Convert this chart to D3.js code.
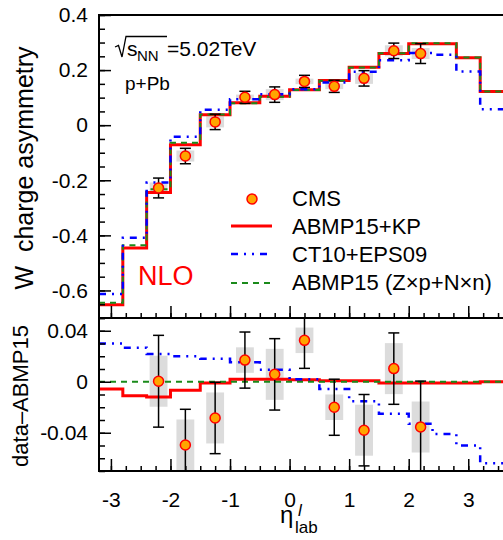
<!DOCTYPE html>
<html>
<head>
<meta charset="utf-8">
<style>
    body {
        margin: 0;
        background: #fff;
    }

    svg {
        display: block;
        font-family: 'Liberation Sans', Arial, sans-serif;
    }

    .axis .domain {
        display: none;
    }

    .axis .tick line {
        stroke: #000;
        stroke-width: 1.5;
    }

    .axis .tick text {
        font-size: 21px;
        fill: #000;
        font-family: 'Liberation Sans', Arial, sans-serif;
    }

    .frame {
        fill: none;
        stroke: #000;
        stroke-width: 2;
    }

    .legend text {
        font-size: 22px;
    }
</style>
</head>
<body>
<svg width="503" height="540"></svg>

<script src="https://d3js.org/d3.v7.min.js"></script>
<script>
    // bin edges (eta_lab) of the NLO histograms
    let binEdges = [-3.2, -2.8, -2.4, -2.0, -1.5, -1.0, -0.5, 0, 0.5, 1.0, 1.5, 2.0, 2.4, 2.8, 3.2, 3.6];

    // upper panel: W charge asymmetry
    let asymKP   = [-0.652, -0.446, -0.244, -0.071, 0.038, 0.081, 0.105, 0.129, 0.162, 0.210, 0.260, 0.296, 0.296, 0.245, 0.122];
    let asymCT10 = [-0.613, -0.409, -0.208, -0.042, 0.056, 0.094, 0.112, 0.130, 0.155, 0.194, 0.236, 0.262, 0.256, 0.195, 0.058];
    let asymZN   = [-0.645, -0.436, -0.233, -0.064, 0.039, 0.080, 0.103, 0.128, 0.161, 0.209, 0.261, 0.297, 0.297, 0.246, 0.122];

    // CMS data
    let cmsEta  = [-2.2, -1.75, -1.25, -0.75, -0.25, 0.25, 0.75, 1.25, 1.75, 2.2];
    let cmsAsym = [-0.228, -0.112, 0.012, 0.101, 0.111, 0.159, 0.141, 0.170, 0.270, 0.260];
    let cmsStat = [0.036, 0.028, 0.028, 0.022, 0.028, 0.022, 0.022, 0.028, 0.028, 0.036];
    let cmsSys  = [0.020, 0.020, 0.020, 0.010, 0.020, 0.010, 0.010, 0.020, 0.020, 0.020];

    // lower panel: difference to ABMP15 (Zxp+Nxn)
    let diffCMS  = [0.0004, -0.0496, -0.0284, 0.017, 0.0058, 0.0325, -0.020, -0.038, 0.0103, -0.0355];
    let diffKP   = [-0.0057, -0.011, -0.012, -0.0067, -0.001, 0.002, 0.002, 0.0016, 0.0008, 0.0008, -0.001, -0.001, -0.001, -0.001, 0.0];
    let diffCT10 = [0.030, 0.0267, 0.0218, 0.020, 0.018, 0.0152, 0.0095, 0.002, -0.0057, -0.0153, -0.025, -0.033, -0.041, -0.050, -0.064];
    let diffZN   = [0, 0, 0, 0, 0, 0, 0, 0, 0, 0, 0, 0, 0, 0, 0];

    // ticks
    let xMajor = [-3, -2, -1, 0, 1, 2, 3];
    let xLabels = ["-3", "-2", "-1", "0", "1", "2", "3"];
    let yTopMajor = [-0.6, -0.4, -0.2, 0, 0.2, 0.4];
    let yTopLabels = ["-0.6", "-0.4", "-0.2", "0", "0.2", "0.4"];
    let yBotMajor = [-0.04, 0, 0.04];
    let yBotLabels = ["-0.04", "0", "0.04"];

    let legendNames = ["CMS", "ABMP15+KP", "CT10+EPS09", "ABMP15 (Z\u00d7p+N\u00d7n)"];

    let colKP = "#ff0000";
    let colCT10 = "#0000ff";
    let colZN = "#1a8a1a";
    let dashCT10 = "7,6,2,6,2,6";
    let dashZN = "6,5";

    let svg = d3.select("svg");

    let x = d3.scaleLinear().domain([-3.2, 3.6]).range([99, 504]);
    let yTop = d3.scaleLinear().domain([-0.7, 0.4]).range([318, 15]);
    let yBot = d3.scaleLinear().domain([-0.07, 0.05]).range([471, 318]);

    let defs = svg.append("defs");
    defs.append("clipPath").attr("id", "clipTop")
        .append("rect").attr("x", 99).attr("y", 15).attr("width", 405).attr("height", 303);
    defs.append("clipPath").attr("id", "clipBot")
        .append("rect").attr("x", 99).attr("y", 318).attr("width", 405).attr("height", 153);

    function stepPoints(vals) {
        let pts = vals.map((v, i) => [binEdges[i], v]);
        pts.push([binEdges[vals.length], vals[vals.length - 1]]);
        return pts;
    }

    function drawPanel(yScale, clipId, kp, ct10, zn, pts, minorStep, yMaj, yLab) {
        let g = svg.append("g").attr("clip-path", `url(#${clipId})`);
        let line = d3.line().curve(d3.curveStepAfter)
            .x(d => x(d[0]))
            .y(d => yScale(d[1]));

        // systematic boxes
        g.selectAll("rect.sys")
            .data(cmsEta)
            .join("rect")
            .attr("class", "sys")
            .attr("x", d => x(d - 0.15))
            .attr("width", x(0.15) - x(-0.15))
            .attr("y", (d, i) => yScale(pts[i] + cmsSys[i]))
            .attr("height", (d, i) => yScale(pts[i] - cmsSys[i]) - yScale(pts[i] + cmsSys[i]))
            .attr("fill", "#dcdcdc");

        g.append("path").attr("d", line(stepPoints(kp)))
            .attr("fill", "none").attr("stroke", colKP).attr("stroke-width", 3);
        g.append("path").attr("d", line(stepPoints(zn)))
            .attr("fill", "none").attr("stroke", colZN).attr("stroke-width", 2)
            .attr("stroke-dasharray", dashZN);
        g.append("path").attr("d", line(stepPoints(ct10)))
            .attr("fill", "none").attr("stroke", colCT10).attr("stroke-width", 2.5)
            .attr("stroke-dasharray", dashCT10);

        // stat errors
        let err = g.selectAll("g.err")
            .data(cmsEta)
            .join("g")
            .attr("class", "err");
        err.append("line")
            .attr("x1", d => x(d)).attr("x2", d => x(d))
            .attr("y1", (d, i) => yScale(pts[i] + cmsStat[i]))
            .attr("y2", (d, i) => yScale(pts[i] - cmsStat[i]))
            .attr("stroke", "#000").attr("stroke-width", 1.5);
        err.append("line")
            .attr("x1", d => x(d) - 5.5).attr("x2", d => x(d) + 5.5)
            .attr("y1", (d, i) => yScale(pts[i] + cmsStat[i]))
            .attr("y2", (d, i) => yScale(pts[i] + cmsStat[i]))
            .attr("stroke", "#000").attr("stroke-width", 1.5);
        err.append("line")
            .attr("x1", d => x(d) - 5.5).attr("x2", d => x(d) + 5.5)
            .attr("y1", (d, i) => yScale(pts[i] - cmsStat[i]))
            .attr("y2", (d, i) => yScale(pts[i] - cmsStat[i]))
            .attr("stroke", "#000").attr("stroke-width", 1.5);

        g.selectAll("circle")
            .data(cmsEta)
            .join("circle")
            .attr("cx", d => x(d))
            .attr("cy", (d, i) => yScale(pts[i]))
            .attr("r", 5)
            .attr("fill", "#ffa500")
            .attr("stroke", colKP)
            .attr("stroke-width", 1.5);

        // y axis, ticks pointing inward
        let yMinor = d3.range(yScale.domain()[0], yScale.domain()[1] + minorStep / 2, minorStep);
        svg.append("g").attr("class", "axis")
            .attr("transform", "translate(99,0)")
            .call(d3.axisLeft(yScale).tickValues(yMinor).tickSize(-6).tickFormat(""));
        svg.append("g").attr("class", "axis")
            .attr("transform", "translate(99,0)")
            .call(d3.axisLeft(yScale).tickValues(yMaj).tickSize(-12).tickPadding(11)
                .tickFormat((d, i) => yLab[i]));
    }

    drawPanel(yTop, "clipTop", asymKP, asymCT10, asymZN, cmsAsym, 0.05, yTopMajor, yTopLabels);
    drawPanel(yBot, "clipBot", diffKP, diffCT10, diffZN, diffCMS, 0.01, yBotMajor, yBotLabels);

    // x axes (ticks up)
    let xMinor = d3.range(-3, 3.6, 0.25);
    [318, 471].forEach(function (yy) {
        svg.append("g").attr("class", "axis")
            .attr("transform", `translate(0,${yy})`)
            .call(d3.axisBottom(x).tickValues(xMinor).tickSize(-5).tickFormat(""));
        svg.append("g").attr("class", "axis")
            .attr("transform", `translate(0,${yy})`)
            .call(d3.axisBottom(x).tickValues(xMajor).tickSize(-12).tickPadding(21)
                .tickFormat((d, i) => yy == 471 ? xLabels[i] : ""));
    });

    // frames
    svg.append("rect").attr("class", "frame").attr("x", 99).attr("y", 15).attr("width", 405).attr("height", 303);
    svg.append("rect").attr("class", "frame").attr("x", 99).attr("y", 318).attr("width", 405).attr("height", 153);

    // axis titles
    svg.append("text")
        .attr("transform", "translate(33,168) rotate(-90)")
        .attr("text-anchor", "middle")
        .attr("font-size", 25)
        .style("white-space", "pre")
        .text("W  charge asymmetry");

    svg.append("text")
        .attr("transform", "translate(28,396) rotate(-90)")
        .attr("text-anchor", "middle")
        .attr("font-size", 22)
        .text("data\u2013ABMP15");

    let xt = svg.append("text").attr("y", 523);
    xt.append("tspan").attr("x", 280).attr("font-size", 24).text("\u03b7");
    xt.append("tspan").attr("x", 298).attr("y", 516).attr("font-size", 17).attr("font-style", "italic").text("l");
    xt.append("tspan").attr("x", 295).attr("y", 533).attr("font-size", 17).text("lab");

    // sqrt(s_NN) label
    svg.append("path")
        .attr("d", "M115,47 L118.5,45.5 L122,57 L126,36.5 L167,36.5")
        .attr("fill", "none").attr("stroke", "#000").attr("stroke-width", 1.3);
    let st = svg.append("text").attr("y", 56);
    st.append("tspan").attr("x", 127).attr("font-size", 21).text("s");
    st.append("tspan").attr("x", 137).attr("y", 61).attr("font-size", 15).text("NN");
    st.append("tspan").attr("x", 167).attr("y", 56).attr("font-size", 21).text("=5.02TeV");

    svg.append("text").attr("x", 125).attr("y", 90).attr("font-size", 19).text("p+Pb");

    svg.append("text").attr("x", 138).attr("y", 285).attr("font-size", 27).attr("fill", colKP).text("NLO");

    // legend
    let lg = svg.append("g").attr("class", "legend");
    let rowY = [206, 234, 262, 290];
    lg.selectAll("text")
        .data(legendNames)
        .join("text")
        .attr("x", 292)
        .attr("y", (d, i) => rowY[i])
        .text(d => d);
    lg.append("circle").attr("cx", 252).attr("cy", 199).attr("r", 5)
        .attr("fill", "#ffa500").attr("stroke", colKP).attr("stroke-width", 1.5);
    lg.append("line").attr("x1", 231).attr("x2", 272).attr("y1", 226).attr("y2", 226)
        .attr("stroke", colKP).attr("stroke-width", 3);
    lg.append("line").attr("x1", 231).attr("x2", 272).attr("y1", 254).attr("y2", 254)
        .attr("stroke", colCT10).attr("stroke-width", 2.5).attr("stroke-dasharray", dashCT10);
    lg.append("line").attr("x1", 231).attr("x2", 272).attr("y1", 283).attr("y2", 283)
        .attr("stroke", colZN).attr("stroke-width", 2).attr("stroke-dasharray", dashZN);
</script>
</body>
</html>
